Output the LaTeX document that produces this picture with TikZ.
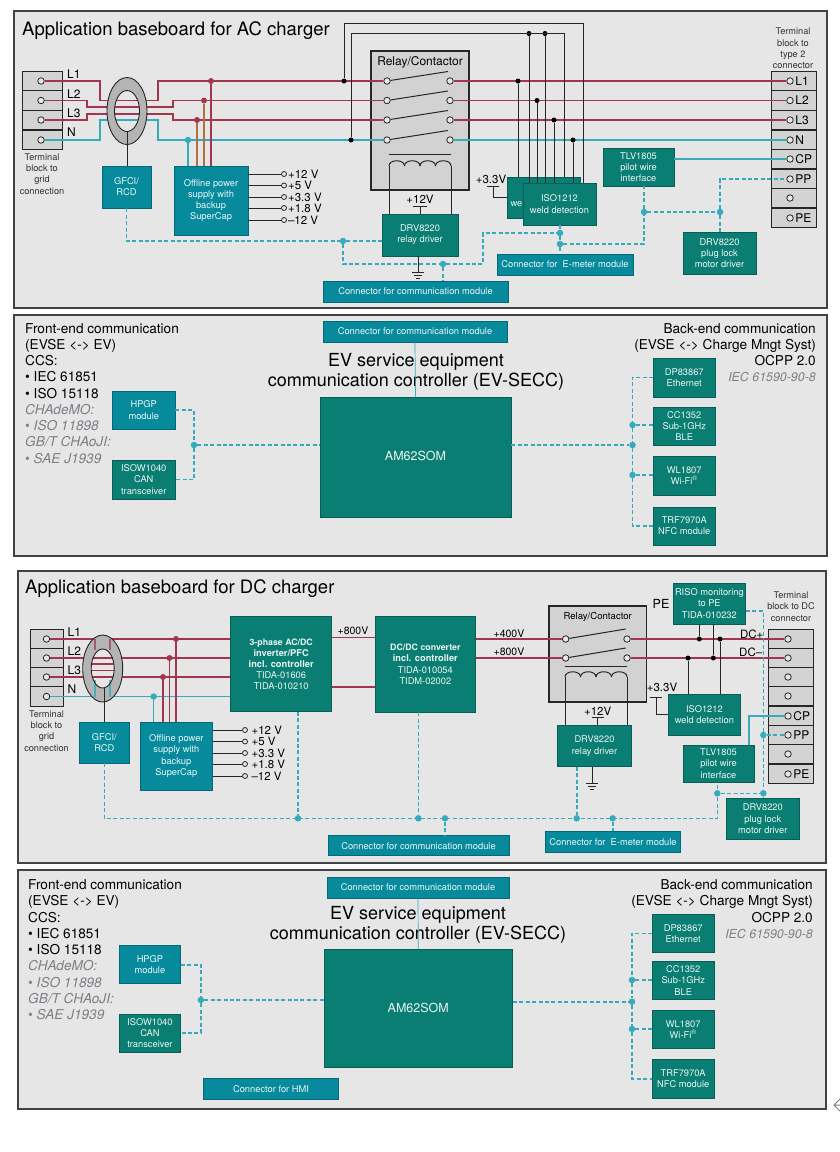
\documentclass[tikz,border=0pt]{standalone}
\usepackage{fontspec}
\setmainfont{TeX Gyre Heros}
\usetikzlibrary{shapes.geometric}

\definecolor{panelGray}{HTML}{E6E6E6}
\definecolor{panelEdge}{HTML}{3F4445}
\definecolor{cellGray}{HTML}{D3D3D3}
\definecolor{relayGray}{HTML}{D2D2D2}
\definecolor{ringGray}{HTML}{B4B4B4}
\definecolor{blockBlue}{HTML}{078B9C}
\definecolor{blockGreen}{HTML}{0A7E72}
\definecolor{wireRed}{HTML}{A23650}
\definecolor{wireBrown}{HTML}{B0713F}
\definecolor{wireCyan}{HTML}{35ABBB}
\definecolor{noteGray}{HTML}{7C7F85}
\definecolor{inkBlack}{HTML}{262626}

\tikzset{
	panel/.style={draw=panelEdge,fill=panelGray,line width=1.2pt,inner sep=0pt},
	cell/.style={draw=inkBlack,fill=cellGray,line width=.9pt,inner sep=0pt},
	relayBox/.style={draw=inkBlack,fill=relayGray,line width=1.1pt,inner sep=0pt},
	boxBlue/.style={draw=blockBlue!75!black,fill=blockBlue,line width=.6pt,inner sep=0pt,text=white!92!blockBlue,align=center,font=\fontsize{9.3}{11.2}\selectfont},
	boxGreen/.style={draw=blockGreen!75!black,fill=blockGreen,line width=.6pt,inner sep=0pt,text=white!92!blockGreen,align=center,font=\fontsize{9.3}{11.2}\selectfont},
	contact/.style={circle,draw=inkBlack,fill=panelGray,line width=.8pt,inner sep=0pt,minimum size=6.5pt},
	jointRed/.style={circle,fill=wireRed,inner sep=0pt,minimum size=6pt},
	jointCyan/.style={circle,fill=wireCyan,inner sep=0pt,minimum size=6.5pt},
	jointBlack/.style={circle,fill=black,inner sep=0pt,minimum size=5pt},
	lineRed/.style={draw=wireRed,line width=1.2pt},
	lineBrown/.style={draw=wireBrown,line width=1.2pt},
	lineCyan/.style={draw=wireCyan,line width=1.2pt},
	lineBlack/.style={draw=inkBlack,line width=1pt},
	dashLink/.style={draw=wireCyan,line width=1.6pt,dash pattern=on 4pt off 2.4pt},
	thinLink/.style={draw=wireCyan,line width=.7pt},
	ringFill/.style={fill=ringGray},
	ringEdge/.style={ellipse,draw=inkBlack,line width=.9pt,inner sep=0pt},
	heading/.style={inner sep=0pt,anchor=west,text=black,font=\fontsize{18.5}{20}\selectfont},
	ctrlTitle/.style={inner sep=0pt,align=center,text=black,font=\fontsize{18}{20.5}\selectfont},
	sideText/.style={inner sep=0pt,text=black,font=\fontsize{13.6}{16.25}\selectfont},
	pinText/.style={inner sep=0pt,anchor=west,text=black,font=\fontsize{12}{14}\selectfont},
	voltText/.style={inner sep=0pt,anchor=west,text=black,font=\fontsize{11.5}{13}\selectfont},
	smallNote/.style={inner sep=0pt,align=center,text=black!80,font=\fontsize{9.2}{11.3}\selectfont}
}

\begin{document}
\begin{tikzpicture}[x=1pt,y=-1pt]
	\useasboundingbox (0,0) rectangle (840,1152);

	\newcommand\drawBox[7]{\node[#2,minimum width={(#5-#3)*1pt},minimum height={(#6-#4)*1pt}] (#1) at ({(#3+#5)/2},{(#4+#6)/2}) {#7};}
	\newcommand\drawCoil[3]{\foreach \k in {0,...,3}{\draw[lineBlack] ({#1+\k*#3},#2) .. controls ({#1+\k*#3},{#2-7}) and ({#1+(\k+1)*#3},{#2-7}) .. ({#1+(\k+1)*#3},#2);}}
	\newcommand\drawBar[3]{\draw[lineBlack] ([xshift=-#2pt,yshift=-#3pt]#1) -- ([xshift=#2pt,yshift=-#3pt]#1);}

	% AC baseboard
	\drawBox{acPanel}{panel}{14}{11}{827}{308}{}
	\node[heading] (acTitle) at (22,31) {Application baseboard for AC charger};

	\foreach \wireY [count=\i] in {81,100.5,120,140}{
		\node[cell,minimum width=40pt,minimum height=19.7pt] (acGridCell\i) at (42,\wireY) {};
		\node[contact] (acGrid\i) at (41,\wireY) {};
	}
	\foreach \pinName/\pinY [count=\i] in {L1/74,L2/94,L3/113,N/132}{
		\node[pinText] (acGridPin\i) at (67,\pinY) {\pinName};
	}
	\node[smallNote] (acGridNote) at (42,174) {Terminal\\block to\\grid\\connection};

	\drawBox{acRelay}{relayBox}{371}{51}{469}{190}{}
	\node[inner sep=0pt,font=\fontsize{12}{14}\selectfont] (acRelayText) at (420,62) {Relay/Contactor};
	\foreach \wireY [count=\i] in {81,100.5,120,140}{
		\node[contact] (acRelayA\i) at (387,\wireY) {};
		\node[contact] (acRelayB\i) at (450,\wireY) {};
		\coordinate (acBlade\i) at (448,\wireY-9.5);
		\draw[lineBlack] (acRelayA\i) -- (acBlade\i);
	}
	\coordinate (acCoilBarA) at (389,154);
	\coordinate (acCoilBarB) at (451,154);
	\coordinate (acCoilA) at (389,166);
	\coordinate (acCoilB) at (451,166);
	\draw[lineBlack] (acCoilBarA) -- (acCoilBarB);
	\drawCoil{389}{166}{15.5}

	\foreach \wireY [count=\i] in {81,100.5,120,140,159,179,198,218}{
		\node[cell,minimum width=45pt,minimum height=19.6pt] (acOutCell\i) at (793.5,\wireY) {};
		\node[contact] (acOut\i) at (790,\wireY) {};
	}
	\foreach \i/\pinName in {1/L1,2/L2,3/L3,4/N,5/CP,6/PP,8/PE}{
		\node[pinText,anchor=west] (acOutPin\i) at ([xshift=1.5pt]acOut\i.east) {\pinName};
	}
	\node[smallNote] (acOutNote) at (793,48.5) {Terminal\\block to\\type 2\\connector};

	% AC wires
	\draw[lineRed] (acGrid1) -- (100,81) -- (100,100.5) -- (158,100.5) -- (158,81) -- (acRelayA1);
	\draw[lineRed] (acGrid2) -- (87,100.5) -- (87,107) -- (173,107) -- (173,100.5) -- (acRelayA2);
	\draw[lineRed] (acGrid3) -- (87,120) -- (87,114) -- (173,114) -- (173,120) -- (acRelayA3);
	\draw[lineCyan] (acGrid4) -- (100,140) -- (100,120) -- (158,120) -- (158,140) -- (acRelayA4);
	\foreach \i in {1,2,3}{
		\draw[lineRed] (acRelayB\i) -- (acOut\i);
	}
	\draw[lineCyan] (acRelayB4) -- (acOut4);

	\path[ringFill,even odd rule] (127,111) ellipse [x radius=20,y radius=33.5] (127,111) ellipse [x radius=12.5,y radius=20.5];
	\node[ringEdge,minimum width=40pt,minimum height=67pt] (acRing) at (127,111) {};
	\node[ringEdge,minimum width=25pt,minimum height=41pt] (acRingHole) at (127,111) {};

	\drawBox{acGfci}{boxBlue}{102}{166}{151}{208}{GFCI/\\RCD}
	\drawBox{acPsu}{boxBlue}{174}{166}{248}{235}{Offline power\\supply with\\backup\\SuperCap}
	\draw[lineBlack] (acRingHole.south) -- (acRingHole.south |- acGfci.north);

	\node[jointRed] (acTapL1) at (211,81) {};
	\node[jointRed] (acTapL2) at (204,100.5) {};
	\node[jointRed] (acTapL3) at (197,120) {};
	\node[jointCyan] (acTapN) at (188,140) {};
	\draw[lineRed] (acTapL1) -- (acTapL1 |- acPsu.north);
	\draw[lineBrown] (acTapL2) -- (acTapL2 |- acPsu.north);
	\draw[lineBrown] (acTapL3) -- (acTapL3 |- acPsu.north);
	\draw[lineCyan] (acTapN) -- (acTapN |- acPsu.north);

	\foreach \voltName/\voltY [count=\i] in {+12 V/174,+5 V/185.5,+3.3 V/197,+1.8 V/208,–12 V/220}{
		\node[contact,minimum size=5pt] (acVolt\i) at (284,\voltY) {};
		\node[voltText] (acVoltText\i) at ([xshift=1pt]acVolt\i.east) {\voltName};
		\draw[lineBlack] (acPsu.east |- acVolt\i) -- (acVolt\i);
	}

	% AC weld detection
	\node[jointBlack] (acSense1) at (344,81) {};
	\node[jointBlack] (acSense2) at (351,140) {};
	\node[jointBlack] (acTap1) at (529,33.5) {};
	\node[jointBlack] (acTap2) at (545,33.5) {};
	\node[jointBlack] (acWeld1) at (518,81) {};
	\node[jointBlack] (acWeld2) at (537,100.5) {};
	\node[jointBlack] (acWeld3) at (554,120) {};
	\node[jointBlack] (acWeld4) at (573,140) {};
	\coordinate (acTopA) at (583,23);
	\coordinate (acTopB) at (564,33.5);
	\drawBox{acIsoBack}{boxGreen}{507}{177}{580}{218}{}
	\node[inner sep=0pt,anchor=east,text=white!92!blockGreen,font=\fontsize{9.3}{11.2}\selectfont] (acIsoBackText) at (522.5,204) {we};
	\drawBox{acIsoFront}{boxGreen}{523}{183}{596}{225}{ISO1212\\weld detection}
	\draw[lineBlack] (acSense1) |- (acTopA) -- (acTopA |- acIsoFront.north);
	\draw[lineBlack] (acSense2) |- (acTopB) -- (acTopB |- acIsoBack.north);
	\draw[lineBlack] (acTap1) -- (acTap1 |- acIsoFront.north);
	\draw[lineBlack] (acTap2) -- (acTap2 |- acIsoFront.north);
	\draw[lineBlack] (acWeld1) -- (acWeld1 |- acIsoBack.north);
	\foreach \i in {2,3,4}{
		\draw[lineBlack] (acWeld\i) -- (acWeld\i |- acIsoFront.north);
	}
	\coordinate (acSupply) at (493,186);
	\node[inner sep=0pt,font=\fontsize{11.5}{13}\selectfont] (acSupplyText) at (491,179.5) {+3.3V};
	\drawBar{acSupply}{6}{0}
	\draw[lineBlack] (acSupply) |- (acIsoBack.west |- 0,197);

	% AC relay driver
	\drawBox{acRelayDrv}{boxGreen}{382}{214}{458}{256}{DRV8220\\relay driver}
	\draw[lineBlack] (acCoilA) -- (acCoilA |- acRelayDrv.north);
	\draw[lineBlack] (acCoilB) -- (acCoilB |- acRelayDrv.north);
	\coordinate (acDrvSupply) at (420,206);
	\node[inner sep=0pt,font=\fontsize{11.5}{13}\selectfont] (acDrvText) at (420,199) {+12V};
	\drawBar{acDrvSupply}{7}{0}
	\draw[lineBlack] (acDrvSupply) -- (acDrvSupply |- acRelayDrv.north);
	\coordinate (acGround) at (418,272);
	\draw[lineBlack] (acGround |- acRelayDrv.south) -- (acGround);
	\drawBar{acGround}{6}{0}
	\drawBar{acGround}{4}{3}
	\drawBar{acGround}{2}{6}

	% AC right side
	\drawBox{acTlv}{boxGreen}{603}{148}{674}{186}{TLV1805\\pilot wire\\interface}
	\drawBox{acPlug}{boxGreen}{683}{232}{756}{274}{DRV8220\\plug lock\\motor driver}
	\drawBox{acConnEm}{boxBlue}{497}{254}{633}{275}{Connector for\ \ E-meter module}
	\drawBox{acConnComm}{boxBlue}{323}{281}{508}{302}{Connector for communication module}
	\draw[lineCyan] (acTlv.east |- acOut5) -- (acOut5);

	\node[jointCyan] (acJoin1) at (343,241) {};
	\node[jointCyan] (acJoin2) at (443,264) {};
	\node[jointCyan] (acJoin3) at (560,233) {};
	\node[jointCyan] (acJoin4) at (560,244) {};
	\node[jointCyan] (acJoin5) at (644,212) {};
	\node[jointCyan] (acJoin6) at (720,212) {};
	\coordinate (acBend) at (483,233);
	\draw[dashLink] (acGfci.south) |- (acJoin1) -- (acRelayDrv.west |- acJoin1);
	\draw[dashLink] (acJoin1) |- (acJoin2) -- (acJoin2 |- acConnComm.north);
	\draw[dashLink] (acJoin2) -| (acBend) -- (acJoin3);
	\draw[dashLink] (acJoin3 |- acIsoFront.south) -- (acJoin3) -- (acJoin4) -- (acJoin4 |- acConnEm.north);
	\draw[dashLink] (acJoin4) -| (acJoin5) -- (acJoin5 |- acTlv.south);
	\draw[dashLink] (acJoin5) -- (acJoin6) -- (acJoin6 |- acPlug.north);
	\draw[dashLink] (acJoin6) |- (acOut6);

	% AC communication controller
	\drawBox{ecPanel}{panel}{14}{315}{827}{556}{}
	\drawBox{ecConn}{boxBlue}{323}{321}{507}{342}{Connector for communication module}
	\drawBox{ecSom}{boxGreen}{320}{397}{511}{517}{\fontsize{12.5}{15}\selectfont\raisebox{2pt}{AM62SOM}}
	\node[ctrlTitle] (ecTitle) at (416,372) {EV service equipment\\communication controller (EV-SECC)};
	\draw[thinLink] (ecConn.south) -- (ecSom.north);
	\node[sideText,anchor=north west,align=left] (ecFront) at (25,323) {Front-end communication\\(EVSE <-> EV)\\CCS:\\• IEC 61851\\• ISO 15118\\{\color{noteGray}\itshape CHAdeMO:}\\{\color{noteGray}• \itshape ISO 11898}\\{\color{noteGray}\itshape GB/T CHAoJI:}\\{\color{noteGray}• \itshape SAE J1939}};
	\node[sideText,anchor=north east,align=right] (ecBack) at (816,323) {Back-end communication\\(EVSE <-> Charge Mngt Syst)\\OCPP 2.0\\{\fontsize{12.4}{14}\selectfont\color{noteGray}\itshape IEC 61590-90-8}};

	\drawBox{ecHpgp}{boxBlue}{112.5}{391}{175}{429}{HPGP\\module}
	\drawBox{ecIsow}{boxGreen}{112.5}{460}{175}{499}{ISOW1040\\CAN\\transceiver}
	\drawBox{ecDp}{boxGreen}{653.5}{358}{715}{397}{DP83867\\Ethernet}
	\drawBox{ecCc}{boxGreen}{653.5}{407}{715}{445}{CC1352\\Sub-1GHz\\BLE}
	\drawBox{ecWl}{boxGreen}{653.5}{456}{715}{495}{WL1807\\Wi-Fi\textsuperscript{\textregistered}}
	\drawBox{ecTrf}{boxGreen}{653.5}{507}{715}{545}{TRF7970A\\NFC module}

	\node[jointCyan] (ecJoinL) at (194,445) {};
	\node[jointCyan] (ecJoinR) at (632.5,445) {};
	\node[jointCyan] (ecJoinCc) at (632.5,425) {};
	\node[jointCyan] (ecJoinWl) at (632.5,475) {};
	\draw[dashLink] (ecHpgp.east) -| (ecJoinL) |- (ecIsow.east);
	\draw[dashLink] (ecJoinL) -- (ecSom.west |- ecJoinL);
	\draw[dashLink] (ecSom.east |- ecJoinR) -- (ecJoinR);
	\draw[dashLink] (ecDp.west) -| (ecJoinCc) -- (ecJoinR) -- (ecJoinWl) |- (ecTrf.west);
	\draw[dashLink] (ecJoinCc) -- (ecCc.west |- ecJoinCc);
	\draw[dashLink] (ecJoinWl) -- (ecWl.west |- ecJoinWl);

	% DC baseboard
	\drawBox{dcPanel}{panel}{18}{571}{826}{863}{}
	\node[heading] (dcTitle) at (25,588.5) {Application baseboard for DC charger};

	\foreach \wireY [count=\i] in {639,658,677,696.5}{
		\node[cell,minimum width=33.5pt,minimum height=19.3pt] (dcGridCell\i) at (46.7,\wireY) {};
		\node[contact] (dcGrid\i) at (46.5,\wireY) {};
	}
	\foreach \pinName/\pinY [count=\i] in {L1/632,L2/651,L3/670,N/689}{
		\node[pinText] (dcGridPin\i) at (67.5,\pinY) {\pinName};
	}
	\node[smallNote] (dcGridNote) at (46.5,731) {Terminal\\block to\\grid\\connection};

	\drawBox{dcInv}{boxGreen}{230.7}{616.7}{331.7}{711.7}{\fontsize{8.8}{11.1}\selectfont\textbf{3-phase AC/DC}\\\textbf{inverter/PFC}\\\textbf{incl. controller}\\TIDA-01606\\TIDA-010210}
	\drawBox{dcConv}{boxGreen}{375}{616.7}{475.7}{712}{\fontsize{8.8}{11.1}\selectfont\textbf{DC/DC converter}\\\textbf{incl. controller}\\TIDA-010054\\TIDM-02002}

	\foreach \i in {1,2,3}{
		\draw[lineRed] (dcGrid\i) -- (dcInv.west |- dcGrid\i);
	}
	\draw[lineCyan] (dcGrid4) -- (dcInv.west |- dcGrid4);
	\draw[lineRed] (91,664) -- (114,664);
	\draw[lineRed] (91,670.5) -- (114,670.5);

	\path[ringFill,even odd rule] (102.7,668.5) ellipse [x radius=20,y radius=33.5] (102.7,668.5) ellipse [x radius=11.5,y radius=19.5];
	\foreach \ringX in {95,110}{
		\draw[lineRed,draw opacity=.7] (\ringX,639) -- (\ringX,650);
		\draw[lineCyan,draw opacity=.8] (\ringX,680) -- (\ringX,697);
	}
	\node[ringEdge,minimum width=40pt,minimum height=67pt] (dcRing) at (102.7,668.5) {};
	\node[ringEdge,minimum width=23pt,minimum height=39pt] (dcRingHole) at (102.7,668.5) {};

	\drawBox{dcGfci}{boxBlue}{79.7}{722}{129}{763}{GFCI/\\RCD}
	\drawBox{dcPsu}{boxBlue}{140}{722}{212.7}{790}{Offline power\\supply with\\backup\\SuperCap}
	\draw[lineBlack] (dcGfci.north) -- (dcGfci.north |- dcRingHole.south);

	\node[jointRed] (dcTapL1) at (176,639) {};
	\node[jointRed] (dcTapL2) at (169.5,658) {};
	\node[jointRed] (dcTapL3) at (163,677) {};
	\node[jointCyan] (dcTapN) at (153.7,696.5) {};
	\foreach \i in {L1,L2,L3}{
		\draw[lineRed] (dcTap\i) -- (dcTap\i |- dcPsu.north);
	}
	\draw[lineCyan] (dcTapN) -- (dcTapN |- dcPsu.north);

	\foreach \voltName/\voltY [count=\i] in {+12 V/730,+5 V/741.5,+3.3 V/753,+1.8 V/764,–12 V/776}{
		\node[contact,minimum size=5pt] (dcVolt\i) at (245,\voltY) {};
		\node[voltText] (dcVoltText\i) at ([xshift=3.5pt]dcVolt\i.east) {\voltName};
		\draw[lineBlack] (dcPsu.east |- dcVolt\i) -- (dcVolt\i);
	}

	\coordinate (dcRailA) at (353,637.7);
	\coordinate (dcRailB) at (353,687);
	\draw[lineRed] (dcRailA -| dcInv.east) -- (dcRailA -| dcConv.west);
	\draw[lineRed] (dcRailB -| dcInv.east) -- (dcRailB -| dcConv.west);
	\node[inner sep=0pt,font=\fontsize{10.5}{12}\selectfont] (dcRailText) at (353,631) {+800V};

	% DC relay
	\drawBox{dcRelay}{relayBox}{549}{606}{646.7}{702}{}
	\node[inner sep=0pt,font=\fontsize{9.6}{12}\selectfont] (dcRelayText) at (597.7,617) {Relay/Contactor};
	\foreach \wireY [count=\i] in {639,658}{
		\node[contact] (dcRelayA\i) at (565.7,\wireY) {};
		\node[contact] (dcRelayB\i) at (627,\wireY) {};
		\coordinate (dcBlade\i) at (625.7,\wireY-10);
		\draw[lineBlack] (dcRelayA\i) -- (dcBlade\i);
		\draw[lineRed] (dcConv.east |- dcRelayA\i) -- (dcRelayA\i);
	}
	\node[inner sep=0pt,font=\fontsize{10.5}{12}\selectfont] (dcRailTextA) at (509,634) {+400V};
	\node[inner sep=0pt,font=\fontsize{10.5}{12}\selectfont] (dcRailTextB) at (509,652) {+800V};
	\coordinate (dcCoilBarA) at (565,666.7);
	\coordinate (dcCoilBarB) at (627,666.7);
	\coordinate (dcCoilA) at (565,677);
	\coordinate (dcCoilB) at (627,677);
	\draw[lineBlack] (dcCoilBarA) -- (dcCoilBarB);
	\drawCoil{565}{677}{15.5}

	\foreach \wireY [count=\i] in {639,658,677,696,716,735,754,774}{
		\node[cell,minimum width=44.3pt,minimum height=19.3pt] (dcOutCell\i) at (790.8,\wireY) {};
		\node[contact] (dcOut\i) at (788,\wireY) {};
	}
	\foreach \i/\pinName in {5/CP,6/PP,8/PE}{
		\node[pinText,anchor=west] (dcOutPin\i) at ([xshift=1.5pt]dcOut\i.east) {\pinName};
	}
	\node[smallNote] (dcOutNote) at (791,606.5) {Terminal\\block to DC\\connector};
	\draw[lineRed] (dcRelayB1) -- (dcOut1);
	\draw[lineRed] (dcRelayB2) -- (dcOut2);

	\drawBox{dcRelayDrv}{boxGreen}{557.3}{725.7}{631.7}{766.7}{DRV8220\\relay driver}
	\draw[lineBlack] (dcCoilA) -- (dcCoilA |- dcRelayDrv.north);
	\draw[lineBlack] (dcCoilB) -- (dcCoilB |- dcRelayDrv.north);
	\coordinate (dcDrvSupply) at (597.7,717.3);
	\node[inner sep=0pt,font=\fontsize{11.5}{13}\selectfont] (dcDrvText) at (597.7,711) {+12V};
	\drawBar{dcDrvSupply}{6}{0}
	\draw[lineBlack] (dcDrvSupply) -- (dcDrvSupply |- dcRelayDrv.north);
	\coordinate (dcGround) at (592,783);
	\draw[lineBlack] (dcGround |- dcRelayDrv.south) -- (dcGround);
	\drawBar{dcGround}{6}{0}
	\drawBar{dcGround}{4}{3}
	\drawBar{dcGround}{2}{6}

	% DC monitoring
	\drawBox{dcRiso}{boxGreen}{673}{583}{745.7}{624}{RISO monitoring\\to PE\\TIDA-010232}
	\drawBox{dcIso}{boxGreen}{668}{694.3}{740.7}{735}{ISO1212\\weld detection}
	\drawBox{dcTlv}{boxGreen}{683}{745}{754}{782.3}{TLV1805\\pilot wire\\interface}
	\drawBox{dcPlug}{boxGreen}{726.3}{798.3}{799.3}{839.3}{DRV8220\\plug lock\\motor driver}
	\node[inner sep=0pt,font=\fontsize{12.5}{14}\selectfont] (dcPeText) at (661,604) {PE};
	\node[inner sep=0pt,font=\fontsize{11.5}{13}\selectfont] (dcSupplyText) at (662,687) {+3.3V};
	\node[inner sep=0pt,font=\fontsize{11.5}{13}\selectfont] (dcPlusText) at (751.7,634) {DC+};
	\node[inner sep=0pt,font=\fontsize{11.5}{13}\selectfont] (dcMinusText) at (750.7,652.7) {DC–};
	\node[jointBlack] (dcSense1) at (699.3,639) {};
	\node[jointBlack] (dcSense2) at (720,639) {};
	\node[jointBlack] (dcSense3) at (688,658) {};
	\node[jointBlack] (dcSense4) at (713.3,658) {};
	\draw[lineBlack] (dcSense1) -- (dcSense1 |- dcRiso.south);
	\draw[lineBlack] (dcSense4) -- (dcSense4 |- dcRiso.south);
	\draw[lineBlack] (dcSense2) -- (dcSense2 |- dcIso.north);
	\draw[lineBlack] (dcSense3) -- (dcSense3 |- dcIso.north);
	\coordinate (dcSupply) at (656.3,697);
	\drawBar{dcSupply}{6}{0}
	\draw[lineBlack] (dcSupply) |- (dcIso.west |- 0,714.7);
	\coordinate (dcCpRise) at (749,745);
	\draw[lineCyan] (dcCpRise) |- (dcOut5);

	\drawBox{dcConnComm}{boxBlue}{328}{835.7}{509}{855.7}{Connector for communication module}
	\drawBox{dcConnEm}{boxBlue}{545.7}{831.7}{680.3}{852.7}{Connector for\ \ E-meter module}

	\node[jointCyan] (dcJoinInv) at (298,818.3) {};
	\node[jointCyan] (dcJoinConv) at (418.3,818.3) {};
	\node[jointCyan] (dcJoinComm) at (445,818.3) {};
	\node[jointCyan] (dcJoinDrv) at (576.7,818.3) {};
	\node[jointCyan] (dcJoinEm) at (612.7,818.3) {};
	\node[jointCyan] (dcJoinTlv) at (717.3,793.3) {};
	\node[jointCyan] (dcJoinPlug) at (763.3,793.3) {};
	\node[jointCyan] (dcJoinPp) at (763.3,735) {};
	\coordinate (dcBusEnd) at (717.3,818.3);
	\coordinate (dcRisoBend) at (763.3,610.7);
	\draw[dashLink] (dcGfci.south) |- (dcBusEnd) -- (dcBusEnd |- dcTlv.south);
	\draw[dashLink] (dcJoinInv |- dcInv.south) -- (dcJoinInv);
	\draw[dashLink] (dcJoinConv |- dcConv.south) -- (dcJoinConv);
	\draw[dashLink] (dcJoinComm) -- (dcJoinComm |- dcConnComm.north);
	\draw[dashLink] (dcJoinDrv |- dcRelayDrv.south) -- (dcJoinDrv);
	\draw[dashLink] (dcJoinEm) -- (dcJoinEm |- dcConnEm.north);
	\draw[dashLink] (dcJoinTlv) -- (dcJoinPlug) -- (dcJoinPlug |- dcPlug.north);
	\draw[dashLink] (dcRiso.east |- dcRisoBend) -- (dcRisoBend) -- (dcJoinPp) -- (dcJoinPlug);
	\draw[dashLink] (dcJoinPp) -- (dcOut6);

	% DC communication controller
	\drawBox{edPanel}{panel}{18}{870}{826}{1109}{}
	\drawBox{edConn}{boxBlue}{327}{877}{509}{898}{Connector for communication module}
	\drawBox{edSom}{boxGreen}{324}{949}{512.6}{1067.7}{\fontsize{12.5}{15}\selectfont\raisebox{1pt}{AM62SOM}}
	\node[ctrlTitle] (edTitle) at (418,925) {EV service equipment\\communication controller (EV-SECC)};
	\draw[thinLink] (edConn.south) -- (edSom.north);
	\node[sideText,anchor=north west,align=left] (edFront) at (28,879.5) {Front-end communication\\(EVSE <-> EV)\\CCS:\\• IEC 61851\\• ISO 15118\\{\color{noteGray}\itshape CHAdeMO:}\\{\color{noteGray}• \itshape ISO 11898}\\{\color{noteGray}\itshape GB/T CHAoJI:}\\{\color{noteGray}• \itshape SAE J1939}};
	\node[sideText,anchor=north east,align=right] (edBack) at (813,879.5) {Back-end communication\\(EVSE <-> Charge Mngt Syst)\\OCPP 2.0\\{\fontsize{12.4}{14}\selectfont\color{noteGray}\itshape IEC 61590-90-8}};

	\drawBox{edHpgp}{boxBlue}{119.4}{945.7}{180.5}{983.7}{HPGP\\module}
	\drawBox{edIsow}{boxGreen}{119.4}{1014}{180.5}{1052}{ISOW1040\\CAN\\transceiver}
	\drawBox{edDp}{boxGreen}{652.4}{914}{714}{952.7}{DP83867\\Ethernet}
	\drawBox{edCc}{boxGreen}{652.4}{961}{714}{999.7}{CC1352\\Sub-1GHz\\BLE}
	\drawBox{edWl}{boxGreen}{652.4}{1010.3}{714}{1048.7}{WL1807\\Wi-Fi\textsuperscript{\textregistered}}
	\drawBox{edTrf}{boxGreen}{652.4}{1059.7}{714}{1098}{TRF7970A\\NFC module}
	\drawBox{edHmi}{boxBlue}{203.5}{1078.7}{338.5}{1099}{Connector for HMI}

	\node[jointCyan] (edJoinL) at (200.9,1000) {};
	\node[jointCyan] (edJoinR) at (632,1001.7) {};
	\node[jointCyan] (edJoinCc) at (632,980) {};
	\node[jointCyan] (edJoinWl) at (632,1029) {};
	\draw[dashLink] (edHpgp.east) -| (edJoinL) |- (edIsow.east);
	\draw[dashLink] (edJoinL) -- (edSom.west |- edJoinL);
	\draw[dashLink] (edSom.east |- edJoinR) -- (edJoinR);
	\draw[dashLink] (edDp.west) -| (edJoinCc) -- (edJoinR) -- (edJoinWl) |- (edTrf.west);
	\draw[dashLink] (edJoinCc) -- (edCc.west |- edJoinCc);
	\draw[dashLink] (edJoinWl) -- (edWl.west |- edJoinWl);

	% arrow cut by the page edge
	\draw[draw=noteGray,line width=1pt] (840,1099) -- (834,1105) -- (840,1111) (834,1105) -- (840,1105);
\end{tikzpicture}
\end{document}
